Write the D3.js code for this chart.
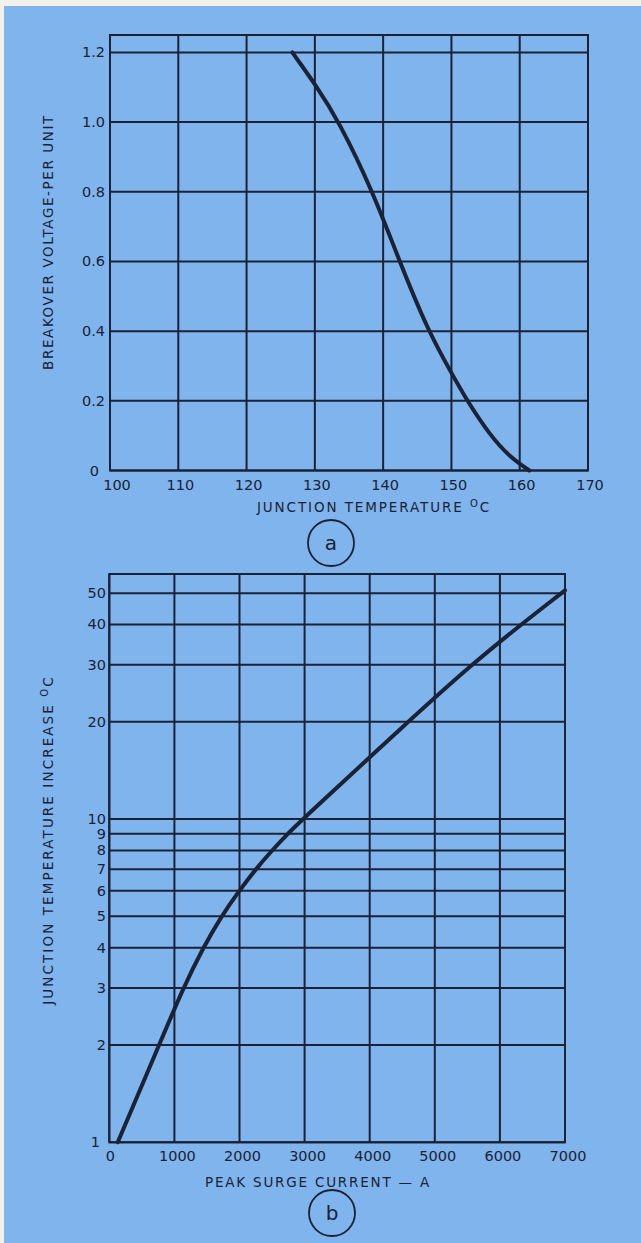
<!DOCTYPE html>
<html><head><meta charset="utf-8">
<script src="https://cdn.jsdelivr.net/npm/d3@7"></script>
<style>
html,body{margin:0;padding:0;background:#f3f1ec;}
svg{display:block;}
text{font-family:"DejaVu Sans","Liberation Sans",sans-serif;fill:#1b2236;}
</style></head>
<body><svg id="c" width="641" height="1243"></svg>
<script>
// ---- Data: chart (a)
const tempTicks = [100,110,120,130,140,150,160,170];
const voltTicks = [0,0.2,0.4,0.6,0.8,1.0,1.2];
const voltTickLabels = ["0","0.2","0.4","0.6","0.8","1.0","1.2"];
const curveATemp = [126.7,130,133.6,138.5,142.4,146.6,150,152.3,155.7,158.5,161.4];
const curveAVolt = [1.2,1.11,1.0,0.8,0.6,0.4,0.28,0.2,0.1,0.04,0];
// ---- Data: chart (b)
const currentTicks = [0,1000,2000,3000,4000,5000,6000,7000];
const riseTicks = [1,2,3,4,5,6,7,8,9,10,20,30,40,50];
const curveBCurrent = [130,765,1134,1441,1720,1996,2249,2501,2739,2974,4588,5561,6326,6946,7000];
const curveBRise = [1,2,3,4,5,6,7,8,9,10,20,30,40,50,51];

const ink = "#1b2236";
const svg = d3.select("#c");
svg.append("rect").attr("x",4).attr("y",6).attr("width",637).attr("height",1237).attr("fill","#7fb4ec");

function grid(g, xs, ys, xTicks, yTicks, x0, x1, y0, y1){
  g.selectAll(".vl").data(xTicks).join("line")
    .attr("x1",d=>xs(d)).attr("x2",d=>xs(d)).attr("y1",ys(y0)).attr("y2",ys(y1))
    .attr("stroke",ink).attr("stroke-width",2);
  g.selectAll(".hl").data(yTicks).join("line").attr("class","hl")
    .attr("x1",xs(x0)).attr("x2",xs(x1)).attr("y1",d=>ys(d)).attr("y2",d=>ys(d))
    .attr("stroke",ink).attr("stroke-width",2);
  g.append("rect").attr("x",xs(x0)).attr("y",ys(y1)).attr("width",xs(x1)-xs(x0)).attr("height",ys(y0)-ys(y1))
    .attr("fill","none").attr("stroke",ink).attr("stroke-width",2);
}
const fs = 14.5, ts = 13.5;

// ---- Chart (a)
const xa = d3.scaleLinear().domain([100,170]).range([110,588]);
const ya = d3.scaleLinear().domain([0,1.25]).range([470.5,35]);
const ga = svg.append("g");
grid(ga, xa, ya, tempTicks, voltTicks, 100, 170, 0, 1.25);
ga.append("path").datum(curveATemp.map((t,i)=>[t,curveAVolt[i]]))
  .attr("d", d3.line().x(d=>xa(d[0])).y(d=>ya(d[1])).curve(d3.curveBasis))
  .attr("fill","none").attr("stroke",ink).attr("stroke-width",4).attr("stroke-linecap","round");
ga.selectAll(".yt").data(voltTicks).join("text")
  .attr("x",d=>d===0?99:105).attr("y",d=>ya(d)+5).attr("text-anchor","end").attr("font-size",fs).text((d,i)=>voltTickLabels[i]);
ga.selectAll(".xt").data(tempTicks).join("text")
  .attr("x",d=>xa(d)+(d===100?7:2)).attr("y",490).attr("text-anchor","middle").attr("font-size",fs).text(d=>d);
ga.append("text").attr("transform","translate(53,242) rotate(-90)").attr("text-anchor","middle")
  .attr("font-size",ts).attr("letter-spacing",1.6).text("BREAKOVER VOLTAGE-PER UNIT");
const xla = ga.append("text").attr("x",374).attr("y",512).attr("text-anchor","middle").attr("font-size",ts).attr("letter-spacing",1.9);
xla.append("tspan").text("JUNCTION  TEMPERATURE ");
xla.append("tspan").attr("font-size",10).attr("dy",-5).text("O");
xla.append("tspan").attr("dy",5).text("C");
ga.append("circle").attr("cx",331).attr("cy",543).attr("r",23).attr("fill","none").attr("stroke",ink).attr("stroke-width",1.8);
ga.append("text").attr("x",331).attr("y",550).attr("text-anchor","middle").attr("font-size",20).text("a");

// ---- Chart (b)
const xb = d3.scaleLinear().domain([0,7000]).range([109.3,565]);
const yb = d3.scaleLog().domain([1,57.3]).range([1142.3,574]);
const gb = svg.append("g");
grid(gb, xb, yb, currentTicks, riseTicks, 0, 7000, 1, 57.3);
gb.append("path").datum(curveBCurrent.map((c,i)=>[c,curveBRise[i]]))
  .attr("d", d3.line().x(d=>xb(d[0])).y(d=>yb(d[1])).curve(d3.curveBasis))
  .attr("fill","none").attr("stroke",ink).attr("stroke-width",4).attr("stroke-linecap","round");
gb.selectAll(".yt").data(riseTicks).join("text")
  .attr("x",d=>d===1?100:106).attr("y",d=>yb(d)+5).attr("text-anchor","end").attr("font-size",fs).text(d=>d);
gb.selectAll(".xt").data(currentTicks).join("text")
  .attr("x",d=>xb(d)+(d===0?1:3)).attr("y",1161).attr("text-anchor","middle").attr("font-size",fs).text(d=>d);
const yl = gb.append("text").attr("transform","translate(53,840) rotate(-90)").attr("text-anchor","middle")
  .attr("font-size",ts).attr("letter-spacing",2.1);
yl.append("tspan").text("JUNCTION    TEMPERATURE    INCREASE     ");
yl.append("tspan").attr("font-size",10).attr("dy",-5).text("O");
yl.append("tspan").attr("dy",5).text("C");
gb.append("text").attr("x",318).attr("y",1187).attr("text-anchor","middle").attr("font-size",ts).attr("letter-spacing",1.8)
  .text("PEAK SURGE CURRENT — A");
gb.append("circle").attr("cx",332).attr("cy",1213).attr("r",23).attr("fill","none").attr("stroke",ink).attr("stroke-width",1.8);
gb.append("text").attr("x",332).attr("y",1220).attr("text-anchor","middle").attr("font-size",20).text("b");
</script></body></html>
